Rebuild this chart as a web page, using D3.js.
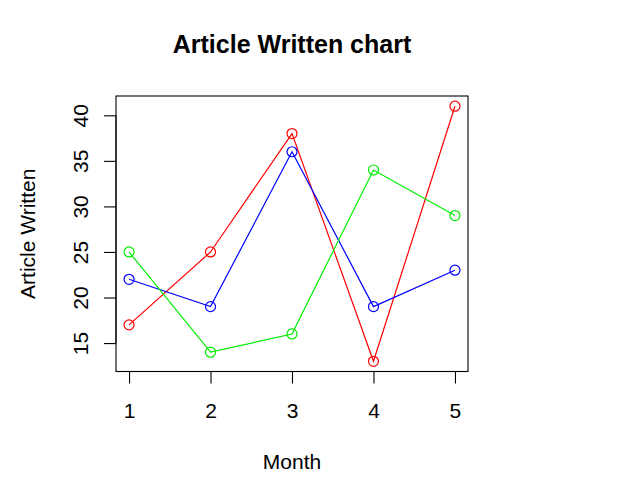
<!DOCTYPE html>
<html><head><meta charset="utf-8">
<script src="https://cdn.jsdelivr.net/npm/d3@7"></script>
<style>body{margin:0;background:#fff}svg{display:block}text{font-family:"Liberation Sans",Arial,sans-serif}</style>
</head><body>
<svg id="c" width="621" height="493"></svg>
<script>
const months = [1, 2, 3, 4, 5];
const redSeries = [17, 25, 38, 13, 41];
const blueSeries = [22, 19, 36, 19, 23];
const greenSeries = [25, 14, 16, 34, 29];
const xTicks = [1, 2, 3, 4, 5];
const yTicks = [15, 20, 25, 30, 35, 40];

const series = [
  {values: redSeries, color: "#ff0000"},
  {values: blueSeries, color: "#0000ff"},
  {values: greenSeries, color: "#00ee00"}
];

const svg = d3.select("#c");
const L = 116, R = 468, T = 96, B = 371.5;
const x = d3.scaleLinear().domain([0.84, 5.16]).range([L, R]);
const y = d3.scaleLinear().domain([11.88, 42.12]).range([B, T]);

svg.append("text").attr("x", 292).attr("y", 53).attr("text-anchor", "middle")
  .attr("font-size", 25).attr("font-weight", "bold").text("Article Written chart");

svg.append("rect").attr("x", L).attr("y", T).attr("width", R - L).attr("height", B - T)
  .attr("fill", "none").attr("stroke", "#000").attr("stroke-width", 1.1);

const xAxis = svg.append("g").attr("transform", `translate(0,${B})`)
  .call(d3.axisBottom(x).tickValues(xTicks).tickSize(12).tickFormat(d3.format("d")));
xAxis.select(".domain").attr("d", `M${x(1)},0H${x(5)}`).attr("stroke", "#000");
xAxis.selectAll(".tick line").attr("stroke", "#000").attr("stroke-width", 1.1);
xAxis.selectAll(".tick text").attr("y", 0).attr("dy", 0)
  .attr("transform", `translate(0,${418 - B})`)
  .attr("font-size", 21).attr("fill", "#000");

const yAxis = svg.append("g").attr("transform", `translate(${L},0)`)
  .call(d3.axisLeft(y).tickValues(yTicks).tickSize(12).tickFormat(d3.format("d")));
yAxis.select(".domain").attr("d", `M0,${y(15)}V${y(40)}`).attr("stroke", "#000");
yAxis.selectAll(".tick line").attr("stroke", "#000").attr("stroke-width", 1.1);
yAxis.selectAll(".tick text").attr("x", 0).attr("y", 0).attr("dy", 0)
  .attr("transform", `translate(${88 - L},0) rotate(-90)`)
  .attr("text-anchor", "middle")
  .attr("font-size", 21).attr("fill", "#000");

svg.append("text").attr("x", 292).attr("y", 469).attr("text-anchor", "middle")
  .attr("font-size", 21).text("Month");
svg.append("text").attr("transform", `translate(35,${(T + B) / 2}) rotate(-90)`)
  .attr("text-anchor", "middle").attr("font-size", 21).text("Article Written");

const line = d3.line().x((d, i) => x(months[i])).y(d => y(d));
series.forEach(s => {
  svg.append("path").attr("d", line(s.values)).attr("fill", "none")
    .attr("stroke", s.color).attr("stroke-width", 1.2);
  svg.selectAll(null).data(s.values).enter().append("circle")
    .attr("cx", (d, i) => x(months[i])).attr("cy", d => y(d)).attr("r", 5)
    .attr("fill", "none").attr("stroke", s.color).attr("stroke-width", 1.2);
});
</script>
</body></html>
